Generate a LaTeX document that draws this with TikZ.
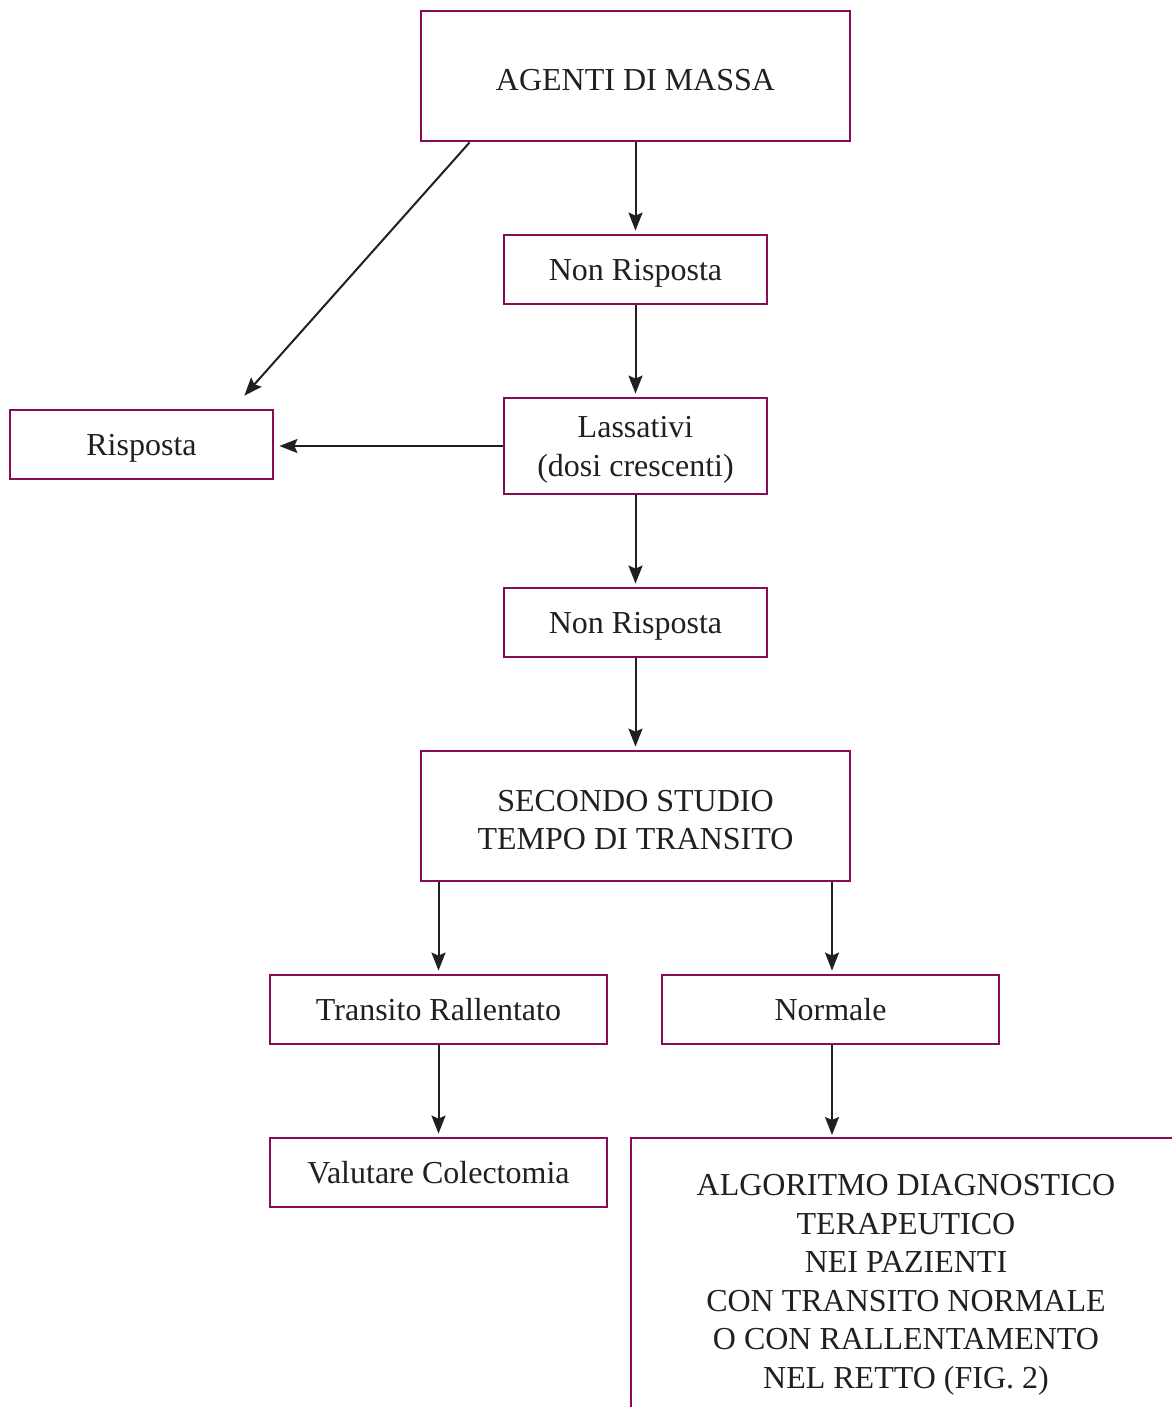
\documentclass[tikz,border=0pt]{standalone}
\usepackage{fontspec}
\setmainfont{Liberation Serif}
\usetikzlibrary{arrows.meta,calc}
\definecolor{boxc}{RGB}{134,12,88}
\definecolor{ink}{RGB}{35,31,32}
\tikzset{
  boxn/.style={draw=boxc, line width=2.8pt, inner sep=0pt},
  txt/.style={text=ink, align=center, inner sep=0pt, yshift=-4pt,
    font=\fontsize{32}{38.5}\selectfont},
  txtb/.style={txt, yshift=4pt},
  arr/.style={draw=ink, line width=2pt, -{Stealth[length=18pt,width=14pt,inset=3pt]}, shorten >=3pt}
}
\begin{document}
\begin{tikzpicture}[x=1pt,y=-1pt]
\useasboundingbox[fill=white] (0,0) rectangle (1171,1407);
\node[boxn, minimum width=429pt, minimum height=130pt, label={[txt]center:{AGENTI DI MASSA}}] (agenti) at (635.5,76) {};
\node[boxn, minimum width=263pt, minimum height=69pt, label={[txt]center:{Non Risposta}}] (nr1) at (635.5,269.5) {};
\node[boxn, minimum width=263pt, minimum height=69pt, label={[txt]center:{Risposta}}] (risp) at (141.5,444.5) {};
\node[boxn, minimum width=263pt, minimum height=96pt, label={[txt]center:{Lassativi\\(dosi crescenti)}}] (lass) at (635.5,446) {};
\node[boxn, minimum width=263pt, minimum height=69pt, label={[txt]center:{Non Risposta}}] (nr2) at (635.5,622.5) {};
\node[boxn, minimum width=429pt, minimum height=130pt, label={[txt]center:{SECONDO STUDIO\\TEMPO DI TRANSITO}}] (sec) at (635.5,816) {};
\node[boxn, minimum width=337pt, minimum height=69pt, label={[txtb]center:{Transito Rallentato}}] (trans) at (438.5,1009.5) {};
\node[boxn, minimum width=337pt, minimum height=69pt, label={[txtb]center:{Normale}}] (norm) at (830.5,1009.5) {};
\node[boxn, minimum width=337pt, minimum height=69pt, label={[txtb]center:{Valutare Colectomia}}] (valu) at (438.5,1172.5) {};
\node[txt] (algo) at (906,1281) {ALGORITMO DIAGNOSTICO\\TERAPEUTICO\\NEI PAZIENTI\\CON TRANSITO NORMALE\\O CON RALLENTAMENTO\\NEL RETTO (FIG. 2)};
\coordinate (algotop) at (832,1138);
\draw[draw=boxc, line width=2.8pt] (1175,1138) -- (631,1138) -- (631,1410);
% connectors
\draw[arr] (agenti.south) -- (nr1.north);
\draw[arr, shorten >=0pt] ($(agenti.south west)+(50,0)$) -- ($(risp.north east)+(-30,-13)$);
\draw[arr] (nr1.south) -- (lass.north);
\draw[arr, shorten >=5pt] (lass.west) -- (risp.east |- lass.west);
\draw[arr] (lass.south) -- (nr2.north);
\draw[arr] (nr2.south) -- (sec.north);
\draw[arr] (sec.south -| trans.north) -- (trans.north);
\draw[arr] (sec.south -| algotop) -- (norm.north -| algotop);
\draw[arr] (trans.south) -- (valu.north);
\draw[arr] (norm.south -| algotop) -- (algotop);
\end{tikzpicture}
\end{document}
